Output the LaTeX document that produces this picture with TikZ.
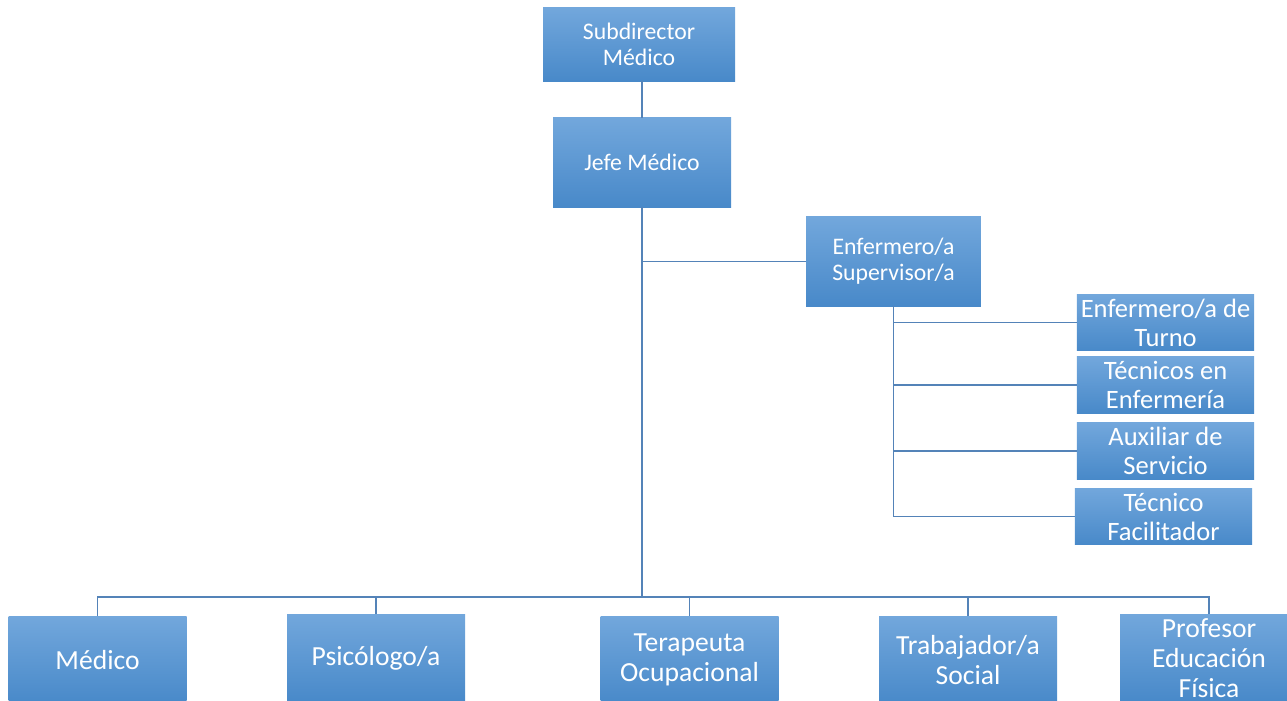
\documentclass[tikz,border=0pt]{standalone}
\usepackage{fontspec}
\setmainfont{Carlito}
\usepackage{xcolor}
\definecolor{boxtop}{RGB}{114,167,220}
\definecolor{boxbot}{RGB}{72,137,201}
\definecolor{linkblue}{RGB}{84,131,184}
\begin{document}
\begin{tikzpicture}[x=0.75pt,y=-0.75pt,
  box/.style={rectangle,top color=boxtop,bottom color=boxbot,draw=none,text=white,align=center,inner sep=0pt},
  topbox/.style={box,font=\fontsize{17.8}{19.5}\selectfont},
  rbox/.style={box,font=\fontsize{19.9}{21.8}\selectfont,minimum width=133pt,minimum height=42.5pt},
  bbox/.style={box,font=\fontsize{20.7}{22.5}\selectfont,minimum width=133.5pt,minimum height=66pt},
  link/.style={draw=linkblue,line width=0.9pt}]
\path[use as bounding box] (0,0) rectangle (1287,700);
\clip (0,0) rectangle (1287,700);
\draw (639,44.5) node[topbox,minimum width=144pt,minimum height=55pt](sub) {Subdirector\\Médico};
\draw (642,162.5) node[topbox,minimum width=133.5pt,minimum height=67pt](jefe) {Jefe Médico};
\draw (893.5,261.5) node[topbox,minimum width=131pt,minimum height=67pt](sup) {Enfermero/a\\Supervisor/a};
\draw (1165.5,322.5) node[rbox](turno) {Enfermero/a de\\Turno};
\draw (1165.5,385) node[rbox](tecenf) {Técnicos en\\Enfermería};
\draw (1165.5,451) node[rbox](aux) {Auxiliar de\\Servicio};
\draw (1163.5,516.5) node[rbox](facil) {Técnico\\Facilitador};
\draw (97.5,660) node[bbox](medico) {Médico};
\draw (376,658) node[bbox](psico) {Psicólogo/a};
\draw (689.5,660) node[bbox](tera) {Terapeuta\\Ocupacional};
\draw (968,660) node[bbox](trab) {Trabajador/a\\Social};
\draw (1209,658) node[bbox](prof) {Profesor\\Educación\\Física};
\coordinate (bus) at (642,597);
\draw[link] (jefe.north) -- (jefe.north |- sub.south);
\draw[link] (jefe.south) -- (bus);
\draw[link] (jefe.south |- sup.west) -- (sup.west);
\draw[link] (sup.south) -- (sup.south |- facil.west);
\foreach \n in {turno,tecenf,aux,facil}
  \draw[link] (sup.south |- \n.west) -- (\n.west);
\foreach \n in {medico,psico,tera,trab,prof}
  \draw[link] (bus) -| (\n.north);
\end{tikzpicture}
\end{document}
